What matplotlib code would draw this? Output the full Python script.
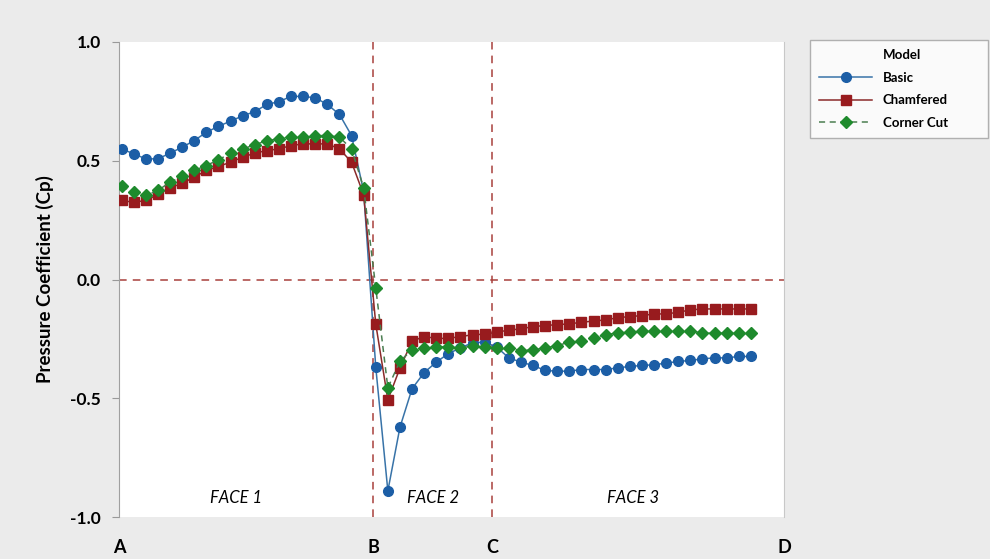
import matplotlib
matplotlib.use("Agg")
import matplotlib.pyplot as plt
from matplotlib.lines import Line2D
import numpy as np

plt.rcParams['font.family'] = ['Lato', 'DejaVu Sans']

# data: pressure coefficient along the faces (point index along the perimeter)
basic = [0.550, 0.529, 0.508, 0.508, 0.532, 0.557, 0.585, 0.620, 0.645, 0.667,
         0.689, 0.707, 0.737, 0.749, 0.771, 0.771, 0.765, 0.737, 0.695, 0.606,
         0.370, -0.369, -0.890, -0.622, -0.460, -0.392, -0.348, -0.312, -0.288, -0.266,
         -0.264, -0.285, -0.330, -0.348, -0.362, -0.383, -0.386, -0.386, -0.379, -0.379,
         -0.379, -0.372, -0.366, -0.362, -0.359, -0.352, -0.345, -0.341, -0.334, -0.330,
         -0.330, -0.324, -0.324]
chamfered = [0.333, 0.325, 0.333, 0.358, 0.386, 0.405, 0.431, 0.459, 0.476, 0.494,
             0.515, 0.532, 0.543, 0.550, 0.564, 0.571, 0.571, 0.571, 0.550, 0.494,
             0.357, -0.187, -0.507, -0.373, -0.260, -0.240, -0.248, -0.248, -0.240, -0.233,
             -0.230, -0.222, -0.213, -0.208, -0.198, -0.194, -0.190, -0.187, -0.180, -0.175,
             -0.170, -0.161, -0.156, -0.152, -0.145, -0.145, -0.138, -0.128, -0.124, -0.124,
             -0.124, -0.124, -0.124]
corner_cut = [0.392, 0.368, 0.354, 0.375, 0.410, 0.434, 0.459, 0.480, 0.504, 0.532,
              0.550, 0.567, 0.585, 0.592, 0.602, 0.602, 0.606, 0.606, 0.599, 0.550,
              0.386, -0.035, -0.456, -0.344, -0.296, -0.288, -0.284, -0.284, -0.288, -0.280,
              -0.285, -0.287, -0.288, -0.299, -0.296, -0.288, -0.278, -0.264, -0.260, -0.246,
              -0.232, -0.225, -0.222, -0.218, -0.215, -0.215, -0.215, -0.215, -0.226, -0.226,
              -0.226, -0.226, -0.226]
x = np.arange(len(basic))

corner_labels = ['A', 'B', 'C', 'D']
corner_pos = [-0.22, 20.77, 30.6, 54.74]
face_labels = ['FACE 1', 'FACE 2', 'FACE 3']
face_pos = [9.45, 25.7, 42.3]

fig = plt.figure(figsize=(9.9, 5.59), dpi=100, facecolor='#ebebeb')
ax = fig.add_axes([119/990, 1-517/559, (784-119)/990, (517-42)/559])
ax.set_facecolor('white')

ref = '#a8403c'
ax.axhline(0, color=ref, ls=(0, (5, 4)), lw=1.1, zorder=1)
for p in corner_pos[1:3]:
    ax.axvline(p, color=ref, ls=(0, (5, 4)), lw=1.1, zorder=1)

ax.plot(x, basic, color='#3873a8', lw=1.1, marker='o', ms=7, mfc='#1c5ea6', mec='#1c5ea6',
        zorder=3, label='Basic')
ax.plot(x, chamfered, color='#8a2a2a', lw=1.1, marker='s', ms=6.5, mfc='#981b1e', mec='#981b1e',
        zorder=4, label='Chamfered')
ax.plot(x, corner_cut, color='#4a7d50', lw=1.1, ls=(0, (4, 3)), marker='D', ms=6, mfc='#1e8a2c',
        mec='#1e8a2c', zorder=5, label='Corner Cut')

for lab, p in zip(face_labels, face_pos):
    ax.text(p, -0.92, lab, ha='center', va='center', style='italic', fontsize=12)

ax.set_xlim(corner_pos[0], corner_pos[-1])
ax.set_ylim(-1.0, 1.0)
ax.set_yticks([-1.0, -0.5, 0.0, 0.5, 1.0])
ax.set_yticklabels(['-1.0', '-0.5', '0.0', '0.5', '1.0'], fontweight='bold', fontsize=12.5)
ax.set_xticks(corner_pos)
ax.set_xticklabels(corner_labels, fontweight='bold', fontsize=13)
ax.tick_params(axis='x', length=0, pad=16)
ax.tick_params(axis='y', length=5, color='#999999', pad=8)
ax.set_ylabel('Pressure Coefficient (Cp)', fontweight='bold', fontsize=13.5, labelpad=12)

for s in ['top', 'bottom']:
    ax.spines[s].set_visible(False)
ax.spines['left'].set_color('#a0a0a0')
ax.spines['right'].set_color('#c8c8c8')

handles, labels = ax.get_legend_handles_labels()
title_h = Line2D([], [], ls='none')
leg = fig.legend([title_h] + handles, ['Model'] + labels, loc='upper left',
                 bbox_to_anchor=(810/990, 1-138/559, 178/990, 98/559), mode='expand',
                 fontsize=9.5, handlelength=4, handletextpad=0.8,
                 frameon=True, fancybox=False, edgecolor='#a0a0a0', borderpad=0.7,
                 borderaxespad=0, labelspacing=0.8)
leg.get_frame().set_linewidth(1)
leg.get_frame().set_facecolor('white')
for t in leg.get_texts():
    t.set_fontweight('bold')

fig.savefig('out.png', dpi=100, facecolor=fig.get_facecolor())
